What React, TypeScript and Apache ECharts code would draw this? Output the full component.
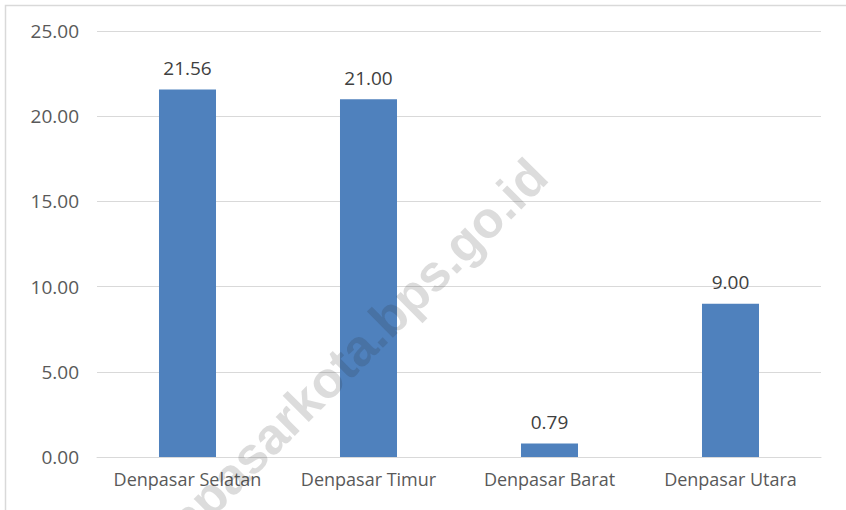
import React, { useEffect, useRef } from "react";
import * as echarts from "echarts";

const categories = ["Denpasar Selatan", "Denpasar Timur", "Denpasar Barat", "Denpasar Utara"];
const values = [21.56, 21.0, 0.79, 9.0];
const yTicks = { min: 0, max: 25, interval: 5 };
const watermark = "denpasarkota.bps.go.id";

export default function App() {
  const ref = useRef<HTMLDivElement>(null);
  useEffect(() => {
    const chart = echarts.init(ref.current!, null, { renderer: "svg" });
    const font = "'Open Sans', 'Noto Sans', sans-serif";
    chart.setOption({
      animation: false,
      backgroundColor: "#ffffff",
      grid: { left: 97, right: 25, top: 31, bottom: 53, containLabel: false },
      xAxis: {
        type: "category",
        data: categories,
        axisLine: { show: true, lineStyle: { color: "#d9d9d9", width: 1 } },
        axisTick: { show: false },
        axisLabel: { color: "#595959", fontSize: 18, fontFamily: font, margin: 13, interval: 0 },
      },
      yAxis: {
        type: "value",
        min: yTicks.min,
        max: yTicks.max,
        interval: yTicks.interval,
        axisLine: { show: false },
        axisTick: { show: false },
        splitLine: { lineStyle: { color: "#d9d9d9", width: 1 } },
        axisLabel: {
          color: "#595959",
          fontSize: 19,
          fontFamily: font,
          margin: 18,
          formatter: (v: number) => v.toFixed(2),
        },
      },
      series: [
        {
          type: "bar",
          data: values,
          barWidth: "31.5%",
          itemStyle: { color: "#4f81bd" },
          label: {
            show: true,
            position: "top",
            distance: 12,
            color: "#404040",
            fontSize: 19,
            fontFamily: font,
            formatter: (p: any) => Number(p.value).toFixed(2),
          },
        },
      ],
      graphic: [
        {
          type: "rect",
          shape: { x: 5.5, y: 5.5, width: 850, height: 520 },
          style: { fill: "none", stroke: "#d9d9d9", lineWidth: 1.5 },
          silent: true,
        },
        {
          type: "text",
          x: 336,
          y: 370,
          rotation: Math.PI / 4,
          style: {
            text: watermark,
            font: "bold 51px 'Liberation Sans', Arial, sans-serif",
            fill: "rgba(40,40,40,0.16)",
            align: "center",
            verticalAlign: "middle",
          },
          silent: true,
          z: 100,
        },
      ],
    });
    return () => chart.dispose();
  }, []);
  return <div ref={ref} style={{ width: 846, height: 510, position: "absolute", left: 0, top: 0 }} />;
}
